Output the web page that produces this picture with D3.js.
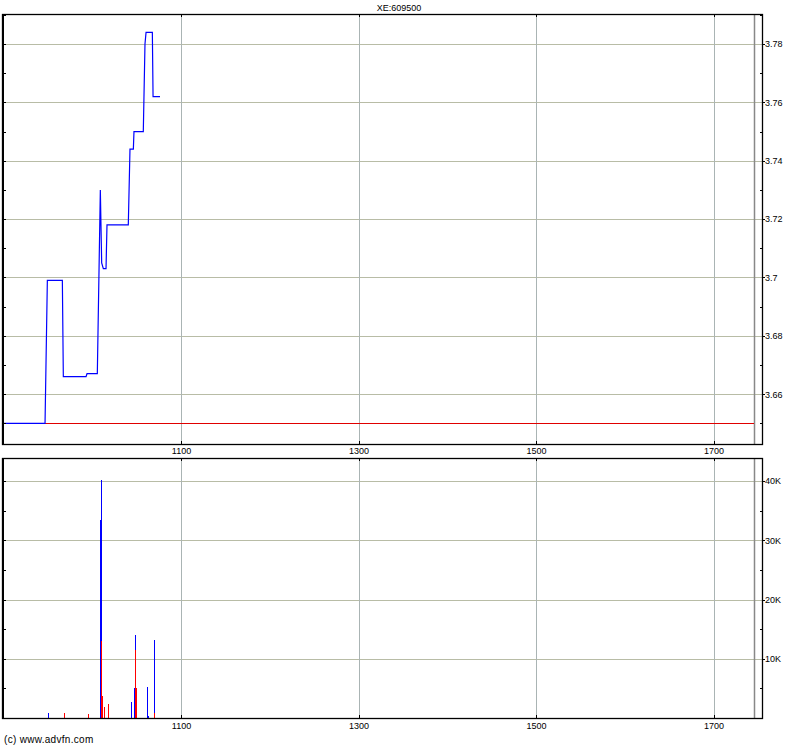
<!DOCTYPE html>
<html>
<head>
<meta charset="utf-8">
<script src="https://cdn.jsdelivr.net/npm/d3@7"></script>
<style>
  html, body { margin: 0; padding: 0; background: #fff; }
  svg { display: block; }
  text { font-family: "Liberation Sans", Arial, sans-serif; fill: #000; }
</style>
</head>
<body>
<svg id="chart" width="800" height="747"></svg>
<script>
// ---------- data ----------
const title = "XE:609500";
const copyright = "(c) www.advfn.com";

// price line (time index, price)
const priceTimes = [898.3, 946.8, 949.4, 966.3, 967.4, 993.0, 994.1, 1005.7, 1009.1, 1010.6, 1012.5, 1015.5, 1016.6, 1040.6, 1042.5, 1046.3, 1047.0, 1057.5, 1059.4, 1060.6, 1067.7, 1068.5, 1076.3];
const priceValues = [3.65, 3.65, 3.699, 3.699, 3.666, 3.666, 3.667, 3.667, 3.73, 3.705, 3.703, 3.703, 3.718, 3.718, 3.744, 3.744, 3.75, 3.75, 3.78, 3.784, 3.784, 3.762, 3.762];
const previousClose = 3.65;

// volume bars (time index, red part, blue part)
const volTimes = [950.7, 968.7, 995.8, 1009.3, 1010.4, 1011.5, 1013.8, 1018.3, 1044.2, 1047.6, 1048.7, 1049.9, 1062.3, 1063.4, 1070.1];
const volRed   = [0, 900, 650, 0, 13000, 3700, 1800, 2400, 0, 0, 11400, 5100, 0, 0, 900];
const volBlue  = [900, 0, 0, 33500, 27200, 0, 0, 0, 2700, 5100, 2600, 0, 5300, 300, 12200];

// axis ticks
const xTicks = [1100, 1300, 1500, 1700];
const priceTicks = [3.66, 3.68, 3.70, 3.72, 3.74, 3.76, 3.78];
const priceMinorTicks = [3.65, 3.67, 3.69, 3.71, 3.73, 3.75, 3.77, 3.79];
const priceLeftTicks = [3.65, 3.66, 3.67, 3.68, 3.69, 3.70, 3.71, 3.72, 3.73, 3.74, 3.75, 3.76, 3.77, 3.78, 3.79];
const volTicks = [10000, 20000, 30000, 40000];
const volTickLabels = ["10K", "20K", "30K", "40K"];
const volMinorTicks = [5000, 15000, 25000, 35000];
const volLeftTicks = [5000, 10000, 15000, 20000, 25000, 30000, 35000, 40000];

// ---------- layout ----------
const L = 2, R = 762, endLineX = 754;
const top1 = 14, bot1 = 444;
const top2 = 458, bot2 = 718;

const svg = d3.select("#chart");
svg.append("rect").attr("width", 800).attr("height", 747).attr("fill", "#fff");

const x = d3.scaleLinear().domain([898.3, 1754.6]).range([L, R]);
const yP = d3.scaleLinear().domain([3.6429, 3.7903]).range([bot1, top1]);
const yV = d3.scaleLinear().domain([0, 43900]).range([bot2, top2]);

const gridH = "#b8bca6", gridV = "#aab4b4";

function panel(y, yTop, yBot, hTicks) {
  const g = svg.append("g");
  // horizontal gridlines
  g.selectAll("line.h").data(hTicks).join("line")
    .attr("x1", L).attr("x2", R)
    .attr("y1", d => Math.round(y(d)) + 0.5).attr("y2", d => Math.round(y(d)) + 0.5)
    .attr("stroke", gridH).attr("stroke-width", 1);
  // vertical gridlines
  g.selectAll("line.v").data(xTicks).join("line")
    .attr("x1", d => Math.round(x(d)) + 0.5).attr("x2", d => Math.round(x(d)) + 0.5)
    .attr("y1", yTop).attr("y2", yBot)
    .attr("stroke", gridV).attr("stroke-width", 1);
  // end-of-day gray line
  g.append("line").attr("x1", endLineX + 0.5).attr("x2", endLineX + 0.5)
    .attr("y1", yTop).attr("y2", yBot).attr("stroke", "#888").attr("stroke-width", 1.5);
  return g;
}

const g1 = panel(yP, top1, bot1, priceTicks);
const g2 = panel(yV, top2, bot2, volTicks);

// previous close line
g1.append("line")
  .attr("x1", x(priceTimes[0])).attr("x2", endLineX)
  .attr("y1", Math.round(yP(previousClose)) + 0.5).attr("y2", Math.round(yP(previousClose)) + 0.5)
  .attr("stroke", "#e00000").attr("stroke-width", 1);

// price line
const line = d3.line().x((d, i) => x(priceTimes[i])).y(d => yP(d));
g1.append("path").datum(priceValues)
  .attr("d", line).attr("fill", "none")
  .attr("stroke", "#0000ff").attr("stroke-width", 1.2);

// volume bars
const bars = volTimes.map((t, i) => ({ t, red: volRed[i], blue: volBlue[i] }));
g2.selectAll("rect.red").data(bars.filter(d => d.red > 0)).join("rect")
  .attr("x", d => Math.floor(x(d.t))).attr("width", 1)
  .attr("y", d => yV(d.red)).attr("height", d => yV(0) - yV(d.red))
  .attr("fill", "#ff0000").attr("shape-rendering", "crispEdges");
g2.selectAll("rect.blue").data(bars.filter(d => d.blue > 0)).join("rect")
  .attr("x", d => Math.floor(x(d.t))).attr("width", 1)
  .attr("y", d => yV(d.red + d.blue)).attr("height", d => yV(d.red) - yV(d.red + d.blue))
  .attr("fill", "#0000ff").attr("shape-rendering", "crispEdges");

// ---------- axes ----------
function styleAxis(sel) {
  sel.select(".domain").remove();
  sel.selectAll(".tick line").attr("stroke", "#000").attr("shape-rendering", "crispEdges");
  sel.selectAll(".tick text").attr("font-size", 9).attr("fill", "#000")
    .style("font-family", "'Liberation Sans', Arial, sans-serif");
}

// right price axis
svg.append("g").attr("transform", `translate(${R},0)`)
  .call(d3.axisRight(yP).tickValues(priceTicks).tickSize(3).tickPadding(0)
    .tickFormat(d => String(+d.toFixed(2))))
  .call(styleAxis);
svg.append("g").attr("transform", `translate(${R},0)`)
  .call(d3.axisLeft(yP).tickValues(priceMinorTicks).tickSize(2).tickFormat(""))
  .call(styleAxis);
svg.append("g").attr("transform", `translate(${L + 1},0)`)
  .call(d3.axisRight(yP).tickValues(priceLeftTicks).tickSize(3).tickFormat(""))
  .call(styleAxis);

// right volume axis
svg.append("g").attr("transform", `translate(${R},0)`)
  .call(d3.axisRight(yV).tickValues(volTicks).tickSize(3).tickPadding(0)
    .tickFormat((d, i) => volTickLabels[i]))
  .call(styleAxis);
svg.append("g").attr("transform", `translate(${R},0)`)
  .call(d3.axisLeft(yV).tickValues(volMinorTicks).tickSize(2).tickFormat(""))
  .call(styleAxis);
svg.append("g").attr("transform", `translate(${L + 1},0)`)
  .call(d3.axisRight(yV).tickValues(volLeftTicks).tickSize(3).tickFormat(""))
  .call(styleAxis);

// x ticks: inside marks on every panel edge
[[top1, 1], [bot1, -1], [top2, 1], [bot2, -1]].forEach(([yy, dir]) => {
  const ax = dir > 0 ? d3.axisBottom(x) : d3.axisTop(x);
  svg.append("g").attr("transform", `translate(0,${yy})`)
    .call(ax.tickValues(xTicks).tickSize(3).tickFormat(""))
    .call(styleAxis);
});
// x labels between panels and at bottom
svg.append("g").attr("transform", `translate(0,${bot1 + 1})`)
  .call(d3.axisBottom(x).tickValues(xTicks).tickSize(0).tickPadding(3).tickFormat(d3.format("d")))
  .call(styleAxis);
svg.append("g").attr("transform", `translate(0,${bot2 + 2})`)
  .call(d3.axisBottom(x).tickValues(xTicks).tickSize(0).tickPadding(3).tickFormat(d3.format("d")))
  .call(styleAxis);

// panel borders
[[top1, bot1], [top2, bot2]].forEach(([a, b]) => {
  svg.append("rect").attr("x", L + 0.5).attr("y", a + 0.5)
    .attr("width", R - L).attr("height", b - a)
    .attr("fill", "none").attr("stroke", "#000").attr("stroke-width", 1.3);
  svg.append("line").attr("x1", L + 1).attr("x2", L + 1).attr("y1", a).attr("y2", b + 1)
    .attr("stroke", "#000").attr("stroke-width", 2);
});

// title and copyright
svg.append("text").attr("x", 399).attr("y", 11).attr("text-anchor", "middle")
  .attr("font-size", 9).text(title);
svg.append("text").attr("x", 4).attr("y", 743).attr("font-size", 10)
  .attr("letter-spacing", 0.3).text(copyright);
</script>
</body>
</html>
